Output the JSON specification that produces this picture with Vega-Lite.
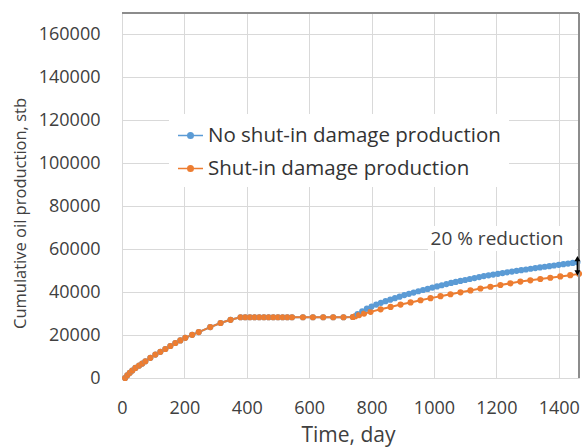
{
  "$schema": "https://vega.github.io/schema/vega-lite/v6.json",
  "width": 457,
  "height": 365,
  "autosize": {"type": "none"},
  "padding": {"left": 122, "top": 13, "right": 4, "bottom": 70},
  "background": "white",
  "datasets": {
    "production": [
      {"day": 10, "oil": 0, "case": "No shut-in damage production"},
      {"day": 17, "oil": 1300, "case": "No shut-in damage production"},
      {"day": 25, "oil": 2400, "case": "No shut-in damage production"},
      {"day": 33, "oil": 3500, "case": "No shut-in damage production"},
      {"day": 43, "oil": 4700, "case": "No shut-in damage production"},
      {"day": 55, "oil": 5800, "case": "No shut-in damage production"},
      {"day": 65, "oil": 6700, "case": "No shut-in damage production"},
      {"day": 75, "oil": 7800, "case": "No shut-in damage production"},
      {"day": 91, "oil": 9400, "case": "No shut-in damage production"},
      {"day": 107, "oil": 10900, "case": "No shut-in damage production"},
      {"day": 123, "oil": 12200, "case": "No shut-in damage production"},
      {"day": 139, "oil": 13500, "case": "No shut-in damage production"},
      {"day": 155, "oil": 14900, "case": "No shut-in damage production"},
      {"day": 171, "oil": 16300, "case": "No shut-in damage production"},
      {"day": 187, "oil": 17500, "case": "No shut-in damage production"},
      {"day": 203, "oil": 18700, "case": "No shut-in damage production"},
      {"day": 225, "oil": 20100, "case": "No shut-in damage production"},
      {"day": 246, "oil": 21400, "case": "No shut-in damage production"},
      {"day": 283, "oil": 23700, "case": "No shut-in damage production"},
      {"day": 316, "oil": 25600, "case": "No shut-in damage production"},
      {"day": 348, "oil": 27100, "case": "No shut-in damage production"},
      {"day": 380, "oil": 28300, "case": "No shut-in damage production"},
      {"day": 395, "oil": 28300, "case": "No shut-in damage production"},
      {"day": 410, "oil": 28300, "case": "No shut-in damage production"},
      {"day": 425, "oil": 28300, "case": "No shut-in damage production"},
      {"day": 440, "oil": 28300, "case": "No shut-in damage production"},
      {"day": 455, "oil": 28300, "case": "No shut-in damage production"},
      {"day": 470, "oil": 28300, "case": "No shut-in damage production"},
      {"day": 485, "oil": 28300, "case": "No shut-in damage production"},
      {"day": 500, "oil": 28300, "case": "No shut-in damage production"},
      {"day": 515, "oil": 28300, "case": "No shut-in damage production"},
      {"day": 530, "oil": 28300, "case": "No shut-in damage production"},
      {"day": 545, "oil": 28300, "case": "No shut-in damage production"},
      {"day": 580, "oil": 28300, "case": "No shut-in damage production"},
      {"day": 612, "oil": 28300, "case": "No shut-in damage production"},
      {"day": 645, "oil": 28300, "case": "No shut-in damage production"},
      {"day": 677, "oil": 28300, "case": "No shut-in damage production"},
      {"day": 710, "oil": 28300, "case": "No shut-in damage production"},
      {"day": 740, "oil": 28400, "case": "No shut-in damage production"},
      {"day": 755, "oil": 29800, "case": "No shut-in damage production"},
      {"day": 770, "oil": 31100, "case": "No shut-in damage production"},
      {"day": 785, "oil": 32300, "case": "No shut-in damage production"},
      {"day": 800, "oil": 33300, "case": "No shut-in damage production"},
      {"day": 815, "oil": 34200, "case": "No shut-in damage production"},
      {"day": 830, "oil": 35000, "case": "No shut-in damage production"},
      {"day": 845, "oil": 35800, "case": "No shut-in damage production"},
      {"day": 860, "oil": 36500, "case": "No shut-in damage production"},
      {"day": 875, "oil": 37200, "case": "No shut-in damage production"},
      {"day": 890, "oil": 37900, "case": "No shut-in damage production"},
      {"day": 905, "oil": 38600, "case": "No shut-in damage production"},
      {"day": 920, "oil": 39200, "case": "No shut-in damage production"},
      {"day": 935, "oil": 39800, "case": "No shut-in damage production"},
      {"day": 950, "oil": 40400, "case": "No shut-in damage production"},
      {"day": 965, "oil": 41000, "case": "No shut-in damage production"},
      {"day": 980, "oil": 41500, "case": "No shut-in damage production"},
      {"day": 995, "oil": 42100, "case": "No shut-in damage production"},
      {"day": 1010, "oil": 42650, "case": "No shut-in damage production"},
      {"day": 1025, "oil": 43200, "case": "No shut-in damage production"},
      {"day": 1040, "oil": 43750, "case": "No shut-in damage production"},
      {"day": 1055, "oil": 44300, "case": "No shut-in damage production"},
      {"day": 1070, "oil": 44750, "case": "No shut-in damage production"},
      {"day": 1085, "oil": 45200, "case": "No shut-in damage production"},
      {"day": 1100, "oil": 45650, "case": "No shut-in damage production"},
      {"day": 1115, "oil": 46100, "case": "No shut-in damage production"},
      {"day": 1130, "oil": 46550, "case": "No shut-in damage production"},
      {"day": 1145, "oil": 47000, "case": "No shut-in damage production"},
      {"day": 1160, "oil": 47450, "case": "No shut-in damage production"},
      {"day": 1175, "oil": 47800, "case": "No shut-in damage production"},
      {"day": 1190, "oil": 48150, "case": "No shut-in damage production"},
      {"day": 1205, "oil": 48500, "case": "No shut-in damage production"},
      {"day": 1220, "oil": 48850, "case": "No shut-in damage production"},
      {"day": 1235, "oil": 49200, "case": "No shut-in damage production"},
      {"day": 1250, "oil": 49550, "case": "No shut-in damage production"},
      {"day": 1265, "oil": 49900, "case": "No shut-in damage production"},
      {"day": 1280, "oil": 50230, "case": "No shut-in damage production"},
      {"day": 1295, "oil": 50550, "case": "No shut-in damage production"},
      {"day": 1310, "oil": 50870, "case": "No shut-in damage production"},
      {"day": 1325, "oil": 51190, "case": "No shut-in damage production"},
      {"day": 1340, "oil": 51500, "case": "No shut-in damage production"},
      {"day": 1355, "oil": 51800, "case": "No shut-in damage production"},
      {"day": 1370, "oil": 52100, "case": "No shut-in damage production"},
      {"day": 1385, "oil": 52400, "case": "No shut-in damage production"},
      {"day": 1400, "oil": 52700, "case": "No shut-in damage production"},
      {"day": 1415, "oil": 53000, "case": "No shut-in damage production"},
      {"day": 1430, "oil": 53300, "case": "No shut-in damage production"},
      {"day": 1445, "oil": 53600, "case": "No shut-in damage production"},
      {"day": 1460, "oil": 53900, "case": "No shut-in damage production"},
      {"day": 10, "oil": 0, "case": "Shut-in damage production"},
      {"day": 17, "oil": 1300, "case": "Shut-in damage production"},
      {"day": 25, "oil": 2400, "case": "Shut-in damage production"},
      {"day": 33, "oil": 3500, "case": "Shut-in damage production"},
      {"day": 43, "oil": 4700, "case": "Shut-in damage production"},
      {"day": 55, "oil": 5800, "case": "Shut-in damage production"},
      {"day": 65, "oil": 6700, "case": "Shut-in damage production"},
      {"day": 75, "oil": 7800, "case": "Shut-in damage production"},
      {"day": 91, "oil": 9400, "case": "Shut-in damage production"},
      {"day": 107, "oil": 10900, "case": "Shut-in damage production"},
      {"day": 123, "oil": 12200, "case": "Shut-in damage production"},
      {"day": 139, "oil": 13500, "case": "Shut-in damage production"},
      {"day": 155, "oil": 14900, "case": "Shut-in damage production"},
      {"day": 171, "oil": 16300, "case": "Shut-in damage production"},
      {"day": 187, "oil": 17500, "case": "Shut-in damage production"},
      {"day": 203, "oil": 18700, "case": "Shut-in damage production"},
      {"day": 225, "oil": 20100, "case": "Shut-in damage production"},
      {"day": 246, "oil": 21400, "case": "Shut-in damage production"},
      {"day": 283, "oil": 23700, "case": "Shut-in damage production"},
      {"day": 316, "oil": 25600, "case": "Shut-in damage production"},
      {"day": 348, "oil": 27100, "case": "Shut-in damage production"},
      {"day": 380, "oil": 28300, "case": "Shut-in damage production"},
      {"day": 395, "oil": 28300, "case": "Shut-in damage production"},
      {"day": 410, "oil": 28300, "case": "Shut-in damage production"},
      {"day": 425, "oil": 28300, "case": "Shut-in damage production"},
      {"day": 440, "oil": 28300, "case": "Shut-in damage production"},
      {"day": 455, "oil": 28300, "case": "Shut-in damage production"},
      {"day": 470, "oil": 28300, "case": "Shut-in damage production"},
      {"day": 485, "oil": 28300, "case": "Shut-in damage production"},
      {"day": 500, "oil": 28300, "case": "Shut-in damage production"},
      {"day": 515, "oil": 28300, "case": "Shut-in damage production"},
      {"day": 530, "oil": 28300, "case": "Shut-in damage production"},
      {"day": 545, "oil": 28300, "case": "Shut-in damage production"},
      {"day": 580, "oil": 28300, "case": "Shut-in damage production"},
      {"day": 612, "oil": 28300, "case": "Shut-in damage production"},
      {"day": 645, "oil": 28300, "case": "Shut-in damage production"},
      {"day": 677, "oil": 28300, "case": "Shut-in damage production"},
      {"day": 710, "oil": 28300, "case": "Shut-in damage production"},
      {"day": 740, "oil": 28400, "case": "Shut-in damage production"},
      {"day": 748, "oil": 28800, "case": "Shut-in damage production"},
      {"day": 760, "oil": 29300, "case": "Shut-in damage production"},
      {"day": 776, "oil": 30000, "case": "Shut-in damage production"},
      {"day": 797, "oil": 30800, "case": "Shut-in damage production"},
      {"day": 829, "oil": 32000, "case": "Shut-in damage production"},
      {"day": 861, "oil": 33100, "case": "Shut-in damage production"},
      {"day": 893, "oil": 34200, "case": "Shut-in damage production"},
      {"day": 925, "oil": 35200, "case": "Shut-in damage production"},
      {"day": 957, "oil": 36200, "case": "Shut-in damage production"},
      {"day": 989, "oil": 37200, "case": "Shut-in damage production"},
      {"day": 1021, "oil": 38100, "case": "Shut-in damage production"},
      {"day": 1053, "oil": 39000, "case": "Shut-in damage production"},
      {"day": 1085, "oil": 39900, "case": "Shut-in damage production"},
      {"day": 1117, "oil": 40800, "case": "Shut-in damage production"},
      {"day": 1149, "oil": 41700, "case": "Shut-in damage production"},
      {"day": 1181, "oil": 42500, "case": "Shut-in damage production"},
      {"day": 1213, "oil": 43300, "case": "Shut-in damage production"},
      {"day": 1245, "oil": 44100, "case": "Shut-in damage production"},
      {"day": 1277, "oil": 44900, "case": "Shut-in damage production"},
      {"day": 1309, "oil": 45500, "case": "Shut-in damage production"},
      {"day": 1341, "oil": 46100, "case": "Shut-in damage production"},
      {"day": 1373, "oil": 46700, "case": "Shut-in damage production"},
      {"day": 1405, "oil": 47300, "case": "Shut-in damage production"},
      {"day": 1437, "oil": 47900, "case": "Shut-in damage production"},
      {"day": 1465, "oil": 48500, "case": "Shut-in damage production"}
    ],
    "note": [
      {"label": "20 % reduction", "day": 1202, "oil": 64740, "boxDay": 981, "boxDay2": 1459, "boxOil": 59150, "boxOil2": 70800, "arrowDay": 1460, "arrowTop": 55600, "arrowBottom": 49000}
    ]
  },
  "layer": [
    {
      "data": {"name": "production"},
      "mark": {"type": "line", "strokeWidth": 2, "point": {"filled": true, "size": 38}},
      "encoding": {
        "x": {
          "field": "day", "type": "quantitative", "title": "Time, day",
          "scale": {"domain": [0, 1465], "nice": false},
          "axis": {
            "values": [0, 200, 400, 600, 800, 1000, 1200, 1400],
            "format": "d", "labelFlush": false,
            "labelBaseline": "alphabetic", "labelPadding": 35,
            "titleX": 226, "titleY": 63, "titleBaseline": "alphabetic", "titleAnchor": "middle"
          }
        },
        "y": {
          "field": "oil", "type": "quantitative", "title": "Cumulative oil production, stb",
          "scale": {"domain": [0, 170000], "nice": false},
          "axis": {
            "values": [0, 20000, 40000, 60000, 80000, 100000, 120000, 140000, 160000],
            "format": "d", "labelPadding": 22, "labelFlush": false,
            "titleFontSize": 16.5,
            "titleX": -97, "titleY": 200, "titleAngle": -90, "titleBaseline": "alphabetic", "titleAlign": "center"
          }
        },
        "color": {
          "field": "case", "type": "nominal",
          "scale": {
            "domain": ["No shut-in damage production", "Shut-in damage production"],
            "range": ["#5b9bd5", "#ed7d31"]
          },
          "legend": {
            "orient": "none", "legendX": 47, "legendY": 101, "title": null,
            "fillColor": "white", "padding": 8,
            "symbolType": "M-1,0H1M-0.22,0A0.22,0.22,0,1,1,0.22,0A0.22,0.22,0,1,1,-0.22,0Z",
            "symbolSize": 625, "symbolStrokeWidth": 1.5,
            "labelFont": "Open Sans", "labelFontSize": 20.5, "labelColor": "#333333",
            "labelOffset": 4, "rowPadding": 9, "labelLimit": 400,
            "encode": {
              "symbols": {
                "update": {
                  "fill": {"scale": "color", "field": "value"},
                  "stroke": {"scale": "color", "field": "value"},
                  "opacity": {"value": 1}
                }
              }
            }
          }
        },
        "order": {"field": "day", "type": "quantitative"}
      }
    },
    {
      "data": {"name": "note"},
      "mark": {"type": "rule", "color": "#8c8c8c", "strokeWidth": 2},
      "encoding": {"y": {"datum": 170000}}
    },
    {
      "data": {"name": "note"},
      "mark": {"type": "rule", "color": "#8c8c8c", "strokeWidth": 2},
      "encoding": {"x": {"datum": 1465}}
    },
    {
      "data": {"name": "note"},
      "mark": {"type": "rect", "fill": "white"},
      "encoding": {
        "x": {"field": "boxDay", "type": "quantitative"}, "x2": {"field": "boxDay2"},
        "y": {"field": "boxOil", "type": "quantitative"}, "y2": {"field": "boxOil2"}
      }
    },
    {
      "data": {"name": "note"},
      "mark": {"type": "text", "font": "Open Sans", "fontSize": 19, "color": "#404040", "align": "center", "baseline": "middle"},
      "encoding": {
        "x": {"field": "day", "type": "quantitative"},
        "y": {"field": "oil", "type": "quantitative"},
        "text": {"field": "label"}
      }
    },
    {
      "data": {"name": "note"},
      "mark": {"type": "rule", "color": "black", "strokeWidth": 1.6},
      "encoding": {
        "x": {"field": "arrowDay", "type": "quantitative"},
        "y": {"field": "arrowTop", "type": "quantitative"},
        "y2": {"field": "arrowBottom"}
      }
    },
    {
      "data": {"name": "note"},
      "mark": {"type": "point", "shape": "triangle-up", "filled": true, "color": "black", "size": 36, "opacity": 1},
      "encoding": {
        "x": {"field": "arrowDay", "type": "quantitative"},
        "y": {"field": "arrowTop", "type": "quantitative"}
      }
    },
    {
      "data": {"name": "note"},
      "mark": {"type": "point", "shape": "triangle-down", "filled": true, "color": "black", "size": 36, "opacity": 1},
      "encoding": {
        "x": {"field": "arrowDay", "type": "quantitative"},
        "y": {"field": "arrowBottom", "type": "quantitative"}
      }
    }
  ],
  "config": {
    "view": {"stroke": null},
    "axis": {
      "grid": true, "gridColor": "#d9d9d9", "gridWidth": 1,
      "domainColor": "#d9d9d9", "domainWidth": 1,
      "ticks": false, "tickSize": 0,
      "labelFont": "Open Sans", "labelFontSize": 18, "labelColor": "#404040",
      "titleFont": "Open Sans", "titleFontSize": 21, "titleFontWeight": "normal", "titleColor": "#404040"
    }
  }
}
